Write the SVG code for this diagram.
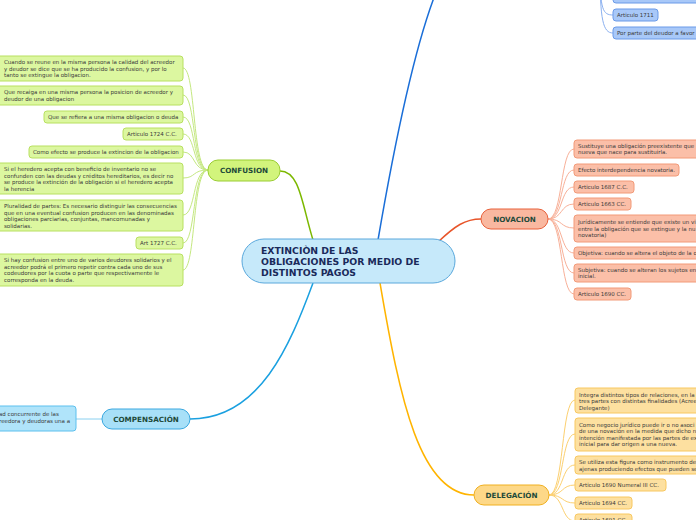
<svg xmlns="http://www.w3.org/2000/svg" width="696" height="520" viewBox="0 0 696 520">
<style>
text{font-family:"DejaVu Sans","Verdana",sans-serif;}
.t{font-size:5.5px;fill:#3a3a3a;}
.nl{font-size:7.2px;font-weight:bold;fill:#1e4a3a;text-anchor:middle;}
.ct{font-size:9.3px;font-weight:bold;fill:#1a2a5a;}
.gc{fill:#dcf7a0;stroke:#b8e060;stroke-width:1;}
.bc{fill:#a8c8f8;stroke:#6a9ae8;stroke-width:1;}
.cc{fill:#b0e4fa;stroke:#5cc0ee;stroke-width:1;}
.oc{fill:#fbbfa8;stroke:#f29a78;stroke-width:1;}
.yc{fill:#fde0a0;stroke:#f8c860;stroke-width:1;}
.sub{fill:none;stroke-width:1;}
.main{fill:none;stroke-width:1.5;}
</style>
<rect width="696" height="520" fill="#ffffff"/>
<g id="connectors">
  <path class="main" stroke="#7cb800" d="M313,240 C302,205 300,171 280,171"/>
  <path class="main" stroke="#1a6ed8" d="M378,240 C390,170 410,60 435,-5"/>
  <path class="main" stroke="#1aa0e0" d="M313,283 C290,345 260,419 190,419"/>
  <path class="main" stroke="#e8552a" d="M438,242 C455,226 465,219 481,219"/>
  <path class="main" stroke="#ffb400" d="M380,283 C400,400 420,495 474,495"/>
  <g stroke="#c4e880">
    <path class="sub" d="M208,170 C192,170 196,68 183,68"/>
    <path class="sub" d="M208,170 C192,170 196,95 183,95"/>
    <path class="sub" d="M208,170 C192,170 196,117 183,117"/>
    <path class="sub" d="M208,170 C192,170 196,134 183,134"/>
    <path class="sub" d="M208,170 C192,170 196,152 183,152"/>
    <path class="sub" d="M208,170 C192,170 196,178 183,178"/>
    <path class="sub" d="M208,170 C192,170 196,215 183,215"/>
    <path class="sub" d="M208,170 C192,170 196,243 183,243"/>
    <path class="sub" d="M208,170 C192,170 196,270 183,270"/>
  </g>
  <path class="sub" stroke="#8ad0f0" d="M102,419 L76,419"/>
  <g stroke="#8ab0f0">
    <path class="sub" d="M600,-30 C600,0 603,-3 613,-3"/>
    <path class="sub" d="M600,-30 C600,10 603,15 613,15"/>
    <path class="sub" d="M600,-30 C600,20 603,33 613,33"/>
  </g>
  <g stroke="#f8b098">
    <path class="sub" d="M548,219 C563,219 560,149 574,149"/>
    <path class="sub" d="M548,219 C563,219 560,170 574,170"/>
    <path class="sub" d="M548,219 C563,219 560,187 574,187"/>
    <path class="sub" d="M548,219 C563,219 560,204 574,204"/>
    <path class="sub" d="M548,219 C563,219 560,228 574,228"/>
    <path class="sub" d="M548,219 C563,219 560,253 574,253"/>
    <path class="sub" d="M548,219 C563,219 560,273 574,273"/>
    <path class="sub" d="M548,219 C563,219 560,294 574,294"/>
  </g>
  <g stroke="#fcd070">
    <path class="sub" d="M549,495 C564,495 561,400 575,400"/>
    <path class="sub" d="M549,495 C564,495 561,434 575,434"/>
    <path class="sub" d="M549,495 C564,495 561,465 575,465"/>
    <path class="sub" d="M549,495 C564,495 561,485 575,485"/>
    <path class="sub" d="M549,495 C564,495 561,503 575,503"/>
    <path class="sub" d="M549,495 C564,495 561,521 575,521"/>
  </g>
</g>
<g id="central">
  <rect x="242" y="239" width="213" height="44" rx="22" fill="#c6e9fa" stroke="#5aa8dc" stroke-width="1"/>
  <text class="ct" x="261" y="254">EXTINCIÒN DE LAS</text>
  <text class="ct" x="261" y="265">OBLIGACIONES POR MEDIO DE</text>
  <text class="ct" x="261" y="276">DISTINTOS PAGOS</text>
</g>
<g id="confusion">
  <rect x="208" y="160" width="72" height="21" rx="10" fill="#d2f47c" stroke="#9acd32"/>
  <text class="nl" x="244" y="173">CONFUSION</text>
</g>
<g id="conf1"><rect class="gc" x="-4" y="56" width="187" height="25" rx="3"/>
  <text class="t" x="4" y="64">Cuando se reune en la misma persona la calidad del acreedor</text>
  <text class="t" x="4" y="70.5">y deudor se dice que se ha producido la confusion, y por lo</text>
  <text class="t" x="4" y="77">tanto se extingue la obligacion.</text></g>
<g id="conf2"><rect class="gc" x="-4" y="86" width="187" height="19" rx="3"/>
  <text class="t" x="4" y="94">Que recaiga en una misma persona la posicion de acreedor y</text>
  <text class="t" x="4" y="100.5">deudor de una obligacion</text></g>
<g id="conf3"><rect class="gc" x="44" y="111" width="139" height="12" rx="3"/>
  <text class="t" x="48" y="119">Que se refiera a una misma obligacion o deuda</text></g>
<g id="conf4"><rect class="gc" x="123" y="128" width="60" height="12" rx="3"/>
  <text class="t" x="127" y="136">Articulo 1724 C.C.</text></g>
<g id="conf5"><rect class="gc" x="29" y="146" width="154" height="12" rx="3"/>
  <text class="t" x="33" y="154">Como efecto se produce la extincion de la obligacion</text></g>
<g id="conf6"><rect class="gc" x="-4" y="163" width="187" height="31" rx="3"/>
  <text class="t" x="4" y="171">Si el heredero acepta con beneficio de inventario no se</text>
  <text class="t" x="4" y="177.5">confunden con las deudas y créditos hereditarios, es decir no</text>
  <text class="t" x="4" y="184">se produce la extinción de la obligación si el heredero acepta</text>
  <text class="t" x="4" y="190.5">la herencia</text></g>
<g id="conf7"><rect class="gc" x="-4" y="200" width="187" height="31" rx="3"/>
  <text class="t" x="4" y="208">Pluralidad de partes: Es necesario distinguir las consecuencias</text>
  <text class="t" x="4" y="214.5">que en una eventual confusion producen en las denominadas</text>
  <text class="t" x="4" y="221">obligaciones parciarias, conjuntas, mancomunadas y</text>
  <text class="t" x="4" y="227.5">solidarias.</text></g>
<g id="conf8"><rect class="gc" x="136" y="237" width="47" height="12" rx="3"/>
  <text class="t" x="140" y="245">Art 1727 C.C.</text></g>
<g id="conf9"><rect class="gc" x="-4" y="254" width="187" height="32" rx="3"/>
  <text class="t" x="4" y="262">Si hay confusion entre uno de varios deudores solidarios y el</text>
  <text class="t" x="4" y="268.5">acreedor podrá el primero repetir contra cada uno de sus</text>
  <text class="t" x="4" y="275">codeudores por la cuota o parte que respectivamente le</text>
  <text class="t" x="4" y="281.5">corresponda en la deuda.</text></g>
<g id="compensacion">
  <rect x="102" y="409" width="88" height="20" rx="10" fill="#a8e0f8" stroke="#3aa8e0"/>
  <text class="nl" x="146" y="422">COMPENSACIÓN</text>
</g>
<g id="comp1"><rect class="cc" x="-10" y="406" width="86" height="25" rx="3"/>
  <text class="t" x="-1" y="416">ad concurrente de las</text>
  <text class="t" x="-1" y="422.5">reedora y deudoras una a</text></g>
<g id="top0"><rect class="bc" x="613" y="-10" width="90" height="13" rx="3"/></g>
<g id="top1"><rect class="bc" x="613" y="9" width="45" height="12" rx="3"/>
  <text class="t" x="617" y="17">Articulo 1711</text></g>
<g id="top2"><rect class="bc" x="613" y="27" width="90" height="12" rx="3"/>
  <text class="t" x="617" y="35">Por parte del deudor a favor</text></g>
<g id="novacion">
  <rect x="481" y="209" width="67" height="20" rx="10" fill="#f9b8a0" stroke="#e8603a"/>
  <text class="nl" x="514.5" y="222">NOVACION</text>
</g>
<g id="nov1"><rect class="oc" x="574" y="140" width="130" height="18" rx="3"/>
  <text class="t" x="578" y="147.5">Sustituye una obligación preexistente que</text>
  <text class="t" x="578" y="154">nueva que nace para sustituirla.</text></g>
<g id="nov2"><rect class="oc" x="574" y="164" width="105" height="12" rx="3"/>
  <text class="t" x="578" y="172">Efecto interdependencia novatoria.</text></g>
<g id="nov3"><rect class="oc" x="574" y="181" width="60" height="12" rx="3"/>
  <text class="t" x="578" y="189">Articulo 1687 C.C.</text></g>
<g id="nov4"><rect class="oc" x="574" y="198" width="57" height="12" rx="3"/>
  <text class="t" x="578" y="206">Articulo 1663 CC.</text></g>
<g id="nov5"><rect class="oc" x="574" y="215" width="130" height="27" rx="3"/>
  <text class="t" x="578" y="224">Jurídicamente se entiende que existe un vi</text>
  <text class="t" x="578" y="230.5">entre la obligación que se extingue y la nu</text>
  <text class="t" x="578" y="237">novatoria)</text></g>
<g id="nov6"><rect class="oc" x="574" y="247" width="130" height="12" rx="3"/>
  <text class="t" x="578" y="255">Objetiva: cuando se altera el objeto de la o</text></g>
<g id="nov7"><rect class="oc" x="574" y="264" width="130" height="18" rx="3"/>
  <text class="t" x="578" y="271.5">Subjetiva: cuando se alteran los sujetos en</text>
  <text class="t" x="578" y="278">inicial.</text></g>
<g id="nov8"><rect class="oc" x="574" y="288" width="57" height="12" rx="3"/>
  <text class="t" x="578" y="296">Articulo 1690 CC.</text></g>
<g id="delegacion">
  <rect x="474" y="485" width="75" height="20" rx="10" fill="#fdd888" stroke="#f0b020"/>
  <text class="nl" x="511.5" y="498">DELEGACIÓN</text>
</g>
<g id="del1"><rect class="yc" x="575" y="388" width="130" height="25" rx="3"/>
  <text class="t" x="579" y="396.5">Integra distintos tipos de relaciones, en la</text>
  <text class="t" x="579" y="403">tres partes con distintas finalidades (Acree</text>
  <text class="t" x="579" y="409.5">Delegante)</text></g>
<g id="del2"><rect class="yc" x="575" y="418" width="130" height="33" rx="3"/>
  <text class="t" x="579" y="426.5">Como negocio jurídico puede ir o no asoci</text>
  <text class="t" x="579" y="433">de una novación en la medida que dicho n</text>
  <text class="t" x="579" y="439.5">intención manifestada por las partes de ex</text>
  <text class="t" x="579" y="446">inicial para dar origen a una nueva.</text></g>
<g id="del3"><rect class="yc" x="575" y="456" width="130" height="18" rx="3"/>
  <text class="t" x="579" y="464">Se utiliza esta figura como instrumento de</text>
  <text class="t" x="579" y="470.5">ajenas produciendo efectos que pueden se</text></g>
<g id="del4"><rect class="yc" x="575" y="479" width="91" height="12" rx="3"/>
  <text class="t" x="579" y="487">Articulo 1690 Numeral III CC.</text></g>
<g id="del5"><rect class="yc" x="575" y="497" width="57" height="12" rx="3"/>
  <text class="t" x="579" y="505">Articulo 1694 CC.</text></g>
<g id="del6"><rect class="yc" x="575" y="514" width="57" height="12" rx="3"/>
  <text class="t" x="579" y="522">Articulo 1691 CC.</text></g>
</svg>
